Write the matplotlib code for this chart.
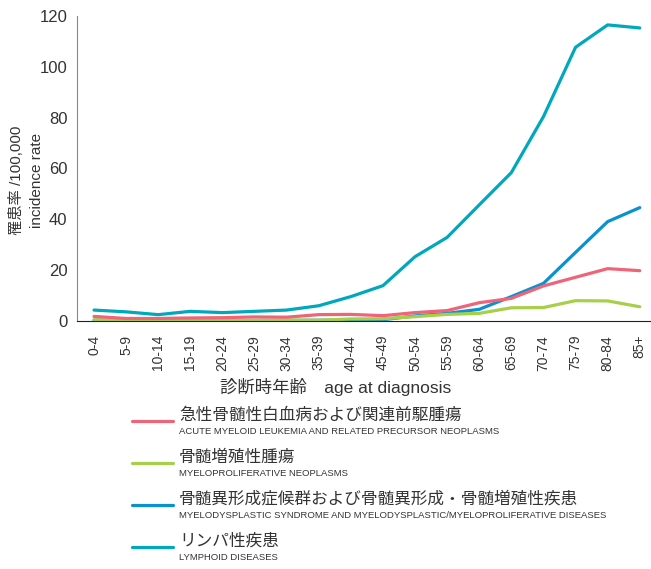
import matplotlib.pyplot as plt
from matplotlib.lines import Line2D

plt.rcParams['font.family'] = ['Liberation Sans', 'Noto Sans CJK JP', 'DejaVu Sans']

age_groups = ['0-4', '5-9', '10-14', '15-19', '20-24', '25-29', '30-34', '35-39',
              '40-44', '45-49', '50-54', '55-59', '60-64', '65-69', '70-74',
              '75-79', '80-84', '85+']

aml = [1.8, 1.0, 1.0, 1.2, 1.3, 1.6, 1.5, 2.5, 2.6, 2.1, 3.3, 4.1, 7.2, 8.9,
       13.8, 17.2, 20.6, 19.8]
mpn = [0.5, 0.3, 0.2, 0.2, 0.2, 0.3, 0.4, 0.3, 0.8, 0.9, 1.7, 2.6, 3.0, 5.2,
       5.3, 8.0, 7.9, 5.6]
mds = [0.3, 0.2, 0.1, 0.1, 0.1, 0.2, 0.2, 0.3, 0.4, 0.5, 2.0, 3.0, 4.6, 9.6,
       14.8, 27.0, 39.1, 44.6]
lymphoid = [4.3, 3.6, 2.5, 3.8, 3.3, 3.8, 4.3, 6.0, 9.6, 13.9, 25.3, 32.9,
            45.7, 58.4, 80.4, 107.7, 116.5, 115.3]

series = [
    (aml, '#EE6479', '急性骨髄性白血病および関連前駆腫瘍',
     'ACUTE MYELOID LEUKEMIA AND RELATED PRECURSOR NEOPLASMS'),
    (mpn, '#A8CF4A', '骨髄増殖性腫瘍', 'MYELOPROLIFERATIVE NEOPLASMS'),
    (mds, '#0A91D0', '骨髄異形成症候群および骨髄異形成・骨髄増殖性疾患',
     'MYELODYSPLASTIC SYNDROME AND MYELODYSPLASTIC/MYELOPROLIFERATIVE DISEASES'),
    (lymphoid, '#00A8BD', 'リンパ性疾患', 'LYMPHOID DISEASES'),
]

W, H = 651, 569
fig = plt.figure(figsize=(W / 100, H / 100), dpi=100)
ax = fig.add_axes([77 / W, 1 - 321 / H, (W - 77) / W, (321 - 16) / H])

x = list(range(len(age_groups)))
# draw order: lymphoid behind, then others
for vals, col, jp, en in [series[3], series[2], series[1], series[0]]:
    ax.plot(x, vals, color=col, lw=2.3, solid_capstyle='round')

ax.set_xlim(-0.53, 17.35)
ax.set_ylim(0, 120)
ax.set_yticks([0, 20, 40, 60, 80, 100, 120])
ax.set_xticks(x)
ax.set_xticklabels(age_groups, rotation=90, fontsize=10, color='#333333')
ax.tick_params(axis='y', labelsize=12, length=0, pad=7, labelcolor='#333333')
ax.tick_params(axis='x', length=0, pad=10)
for s in ['top', 'right']:
    ax.spines[s].set_visible(False)
ax.spines['left'].set_color('#888888')
ax.spines['bottom'].set_color('#222222')

fig.text(17 / W, 1 - 180 / H, '罹患率 /100,000', rotation=90, ha='center',
         va='center', fontsize=11, color='#333333')
fig.text(37 / W, 1 - 180 / H, 'incidence rate', rotation=90, ha='center',
         va='center', fontsize=11, color='#333333')
fig.text(220 / W, 1 - 387 / H, '診断時年齢　age at diagnosis', ha='left',
         va='center', fontsize=12.5, color='#333333')

# manual legend
line_y = [421, 463, 505, 547]
for (vals, col, jp, en), ly in zip(series, line_y):
    fig.add_artist(Line2D([132 / W, 173 / W], [1 - ly / H, 1 - ly / H],
                          color=col, lw=2.3, solid_capstyle='round'))
    fig.text(179 / W, 1 - (ly - 6) / H, jp, ha='left', va='center',
             fontsize=12, color='#333333')
    fig.text(179 / W, 1 - (ly + 10) / H, en, ha='left', va='center',
             fontsize=6.8, color='#333333')

fig.savefig('out.png', dpi=100)
